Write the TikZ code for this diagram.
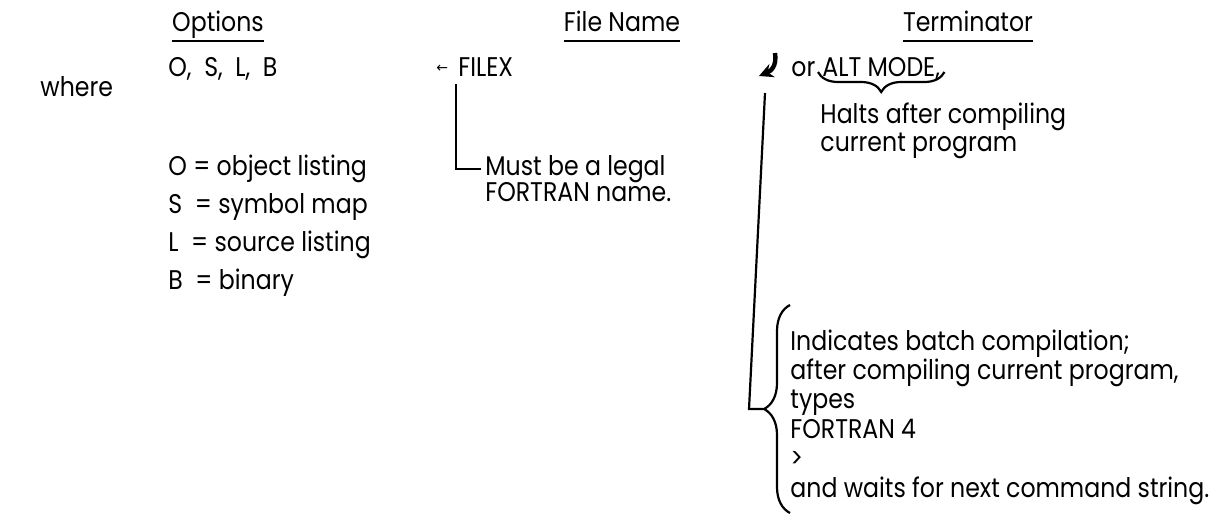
\documentclass[tikz,border=0pt]{standalone}
\usepackage{fontspec}
\setmainfont{Poppins}[FakeStretch=0.875]
\newfontfamily\symfont{DejaVu Sans}
\usetikzlibrary{decorations.pathreplacing,arrows.meta}

\begin{document}
\begin{tikzpicture}[x=0.5pt,y=-0.5pt,
    txt/.style={anchor=base west, inner sep=0pt, font=\fontsize{13.5}{15}\selectfont},
    head/.style={txt, anchor=base},
    lead/.style={line width=1.1pt},
    brc/.style={decorate, decoration={brace, amplitude=#1}, line width=1.1pt}]

    % Рамка
    \useasboundingbox (0,0) rectangle (1226,514);

    % Заголовки колонок
    \node[head] (hdopt)  at (218,32) {Options};
    \node[head] (hdfile) at (622,32) {File Name};
    \node[head] (hdterm) at (968,32) {Terminator};
    \foreach \h in {hdopt,hdfile,hdterm}
        \draw[line width=1.3pt] ([yshift=-4.5pt]\h.base west) -- ([yshift=-4.5pt]\h.base east);

    % Первая строка
    \node[txt] (optlist) at (168,76) {O,\ \ S,\ \ L,\ \ B};
    \node[txt] (where)   at (40,96) {where};
    \node[txt] (larrow)  at (436,72) {\symfont\fontsize{7}{7}\selectfont ←};
    \node[txt] (filex)   at (458,76) {FILEX};
    \node[txt] (orword)  at (791,76) {or};
    \node[txt] (altmode) at (822,76) {ALT MODE,};

    % Знак возврата каретки (в шрифтах нет такого символа)
    \coordinate (retfoot) at (765,93);
    \draw[line width=2.2pt, -{Stealth[length=7pt,width=7pt]}]
        (775,53) .. controls (777,66) and (771,71) .. (759,76);

    % Пояснение к ALT MODE
    \draw[brc=10pt, decoration={mirror}] ([xshift=-2pt,yshift=2pt]altmode.base west) -- ([xshift=2pt,yshift=2pt]altmode.base east);
    \node[txt] (halts1) at (820,123) {Halts after compiling};
    \node[txt] (halts2) at (820,151) {current program};

    % Список опций
    \node[txt] (optO) at (168,175) {O = object listing};
    \node[txt] (optS) at (168,213) {S\ \ = symbol map};
    \node[txt] (optL) at (168,251) {L\ \ = source listing};
    \node[txt] (optB) at (168,289) {B\ \ = binary};

    % Имя файла
    \node[txt] (legal1) at (485,175) {Must be a legal};
    \node[txt] (legal2) at (485,201) {FORTRAN name.};
    \draw[lead] ([xshift=-1pt,yshift=-4pt]filex.south west) |- ([xshift=-2pt]legal1.west);

    % Пакетная компиляция
    \node[txt] (batch1) at (790,350) {Indicates batch compilation;};
    \node[txt] (batch2) at (790,379) {after compiling current program,};
    \node[txt] (batch3) at (790,408) {types};
    \node[txt] (batch4) at (790,438) {FORTRAN 4};
    \node[txt] (batch5) at (790,467) {>};
    \node[txt] (batch6) at (790,497) {and waits for next command string.};
    \draw[brc=13pt] (790,513) -- (790,305);

    % Линия от терминатора к скобке
    \coordinate (bend) at (749,409);
    \coordinate (tip)  at (763,409);
    \draw[lead] (retfoot) -- (bend) -- (tip);

\end{tikzpicture}
\end{document}
